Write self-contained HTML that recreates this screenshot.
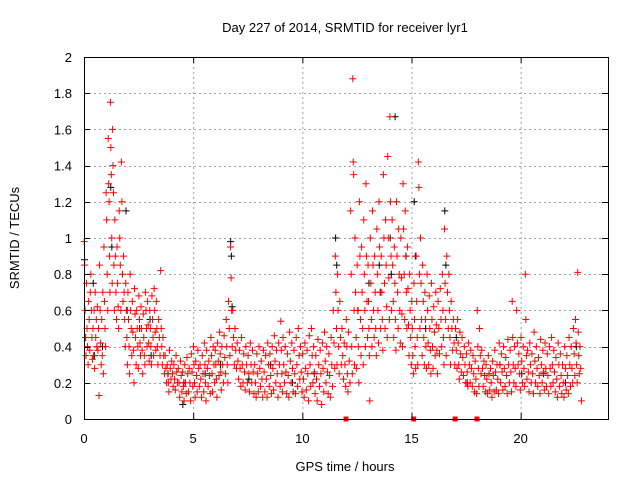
<!DOCTYPE html>
<html><head><meta charset="utf-8"><style>
body{margin:0;background:#fff}
svg{display:block;font-family:"Liberation Sans",sans-serif}
</style></head><body>
<svg id="chart" width="640" height="480"></svg>
<script>
const xTicks=[0,5,10,15,20];
const yTicks=[0,0.2,0.4,0.6,0.8,1,1.2,1.4,1.6,1.8,2];
const yTickLabels=["0","0.2","0.4","0.6","0.8","1","1.2","1.4","1.6","1.8","2"];
// each row: [start hour of 0.1h interval, samples within that interval...]
const redRows=[
[0.0,.98,.85,.6,.45,.35],[0.1,.75,.5,.4,.3],[0.2,.65,.55,.38,.7],[0.3,.8,.6,.45,.33],[0.4,.5,.35,.6,.28],[0.5,.7,.45,.55,.4],[0.6,.62,.38,.5,.13],[0.7,.85,.6,.42,.3],[0.8,.55,.35,.7,.25],[0.9,.95,.65,.5,.4],
[1.0,1.25,1.1,.8,.6],[1.1,1.55,1.3,1.2,.9,.7],[1.2,1.75,1.5,1.35,1.0,.75],[1.3,1.6,1.4,1.25,.85,.6],[1.4,1.1,.9,.7,.55],[1.5,.95,.75,.62,.5],[1.6,1.15,1.0,.85,.6],[1.7,1.42,1.2,.8,.65],[1.8,.9,.7,.55,.4],[1.9,.75,.6,.45,.3],
[2.0,.7,.55,.4,.25],[2.1,.8,.6,.5,.35],[2.2,.65,.48,.38,.2],[2.3,.72,.58,.45,.3],[2.4,.6,.5,.4,.28],[2.5,.68,.55,.42,.35],[2.6,.62,.5,.38,.25],[2.7,.58,.45,.35,.3],[2.8,.7,.6,.5,.4],[2.9,.65,.52,.42,.32],
[3.0,.6,.5,.4,.3],[3.1,.68,.55,.45,.35],[3.2,.72,.6,.48,.38],[3.3,.65,.5,.4,.3],[3.4,.55,.45,.35],[3.5,.82,.5,.4,.3],[3.6,.45,.35,.25],[3.7,.35,.28,.2],[3.8,.3,.25,.2,.15],[3.9,.38,.28,.22],
[4.0,.32,.25,.18],[4.1,.3,.22,.16],[4.2,.35,.26,.2],[4.3,.28,.2,.12],[4.4,.32,.24,.15],[4.5,.26,.18,.1],[4.6,.3,.2,.14],[4.7,.34,.25,.15],[4.8,.28,.2,.1],[4.9,.36,.26,.18],
[5.0,.4,.3,.2,.12],[5.1,.32,.24,.15],[5.2,.38,.28,.18],[5.3,.3,.22,.12],[5.4,.35,.25,.15],[5.5,.42,.3,.2,.1],[5.6,.38,.28,.18],[5.7,.32,.24,.14],[5.8,.45,.35,.25,.15],[5.9,.4,.3,.2],
[6.0,.38,.3,.22,.12],[6.1,.42,.32,.24],[6.2,.48,.36,.26,.16],[6.3,.4,.3,.2],[6.4,.46,.34,.25],[6.5,.55,.4,.3,.2],[6.6,.65,.5,.35],[6.7,.95,.78,.6,.4],[6.8,.6,.45,.3],[6.9,.5,.38,.28],
[7.0,.42,.32,.22],[7.1,.38,.28,.18],[7.2,.45,.3,.2],[7.3,.36,.26,.16],[7.4,.4,.3,.2],[7.5,.35,.25,.15],[7.6,.42,.3,.2],[7.7,.38,.26,.14],[7.8,.3,.2,.12],[7.9,.36,.25,.15],
[8.0,.4,.28,.18],[8.1,.32,.22,.12],[8.2,.38,.26,.15],[8.3,.35,.22,.12],[8.4,.42,.3,.18],[8.5,.36,.24,.14],[8.6,.4,.28,.16],[8.7,.46,.32,.2],[8.8,.38,.25,.12],[8.9,.42,.3,.18],
[9.0,.54,.38,.25,.15],[9.1,.45,.3,.2],[9.2,.4,.26,.14],[9.3,.36,.24,.12],[9.4,.48,.32,.2],[9.5,.42,.28,.15],[9.6,.38,.25,.14],[9.7,.45,.3,.18],[9.8,.5,.35,.22],[9.9,.4,.26,.15],
[10.0,.36,.22,.12],[10.1,.42,.28,.16],[10.2,.38,.25,.1],[10.3,.46,.3,.18],[10.4,.5,.35,.2],[10.5,.4,.26,.14],[10.6,.35,.22,.1],[10.7,.44,.3,.18],[10.8,.38,.25,.08],[10.9,.42,.28,.15],
[11.0,.48,.32,.2],[11.1,.4,.26,.14],[11.2,.36,.24,.12],[11.3,.45,.3,.18],[11.4,.6,.42,.28],[11.5,.9,.7,.5,.3],[11.6,.8,.6,.4,.25],[11.7,.65,.45,.3],[11.8,.5,.35,.22],[11.9,.42,.3,.18],
[12.0,.55,.4,.25,.15],[12.1,.48,.32,.2],[12.2,1.15,.8,.4,.25],[12.3,1.88,1.42,1.35,.6,.3],[12.4,1.0,.7,.45,.28],[12.5,.85,.6,.4,.2],[12.6,1.2,.9,.55,.35],[12.7,.95,.7,.5,.3],[12.8,1.1,.8,.6,.4],[12.9,1.3,.9,.65,.45],
[13.0,.85,.65,.5,.35,.1],[13.1,1.0,.75,.55,.4],[13.2,1.15,.85,.6,.45],[13.3,.9,.7,.5,.35],[13.4,1.05,.8,.6,.42],[13.5,1.2,.95,.7,.5],[13.6,.9,.7,.55,.38],[13.7,1.35,1.0,.75,.5],[13.8,1.1,.85,.62,.45],[13.9,1.45,1.0,.78,.55],
[14.0,1.67,1.2,.9,.6],[14.1,1.1,.85,.65,.45],[14.2,.95,.75,.55,.38],[14.3,1.2,.9,.7,.5],[14.4,1.05,.8,.6,.42],[14.5,1.0,.78,.58,.4],[14.6,1.3,1.05,.8,.55],[14.7,1.15,.9,.7,.5],[14.8,.95,.72,.52,.35],[14.9,.8,.6,.45,.3],
[15.0,.65,.5,.35,.25],[15.1,.75,.55,.4,.28],[15.2,.9,.65,.45,.3],[15.3,1.42,1.28,.8,.5],[15.4,1.0,.75,.55,.35],[15.5,.85,.65,.45,.3],[15.6,.7,.55,.4,.28],[15.7,.8,.6,.42,.3],[15.8,.68,.5,.38,.25],[15.9,.75,.55,.4,.28],
[16.0,.62,.48,.35],[16.1,.7,.52,.38,.25],[16.2,.65,.5,.36],[16.3,.72,.55,.4],[16.4,.8,.6,.45,.3],[16.5,1.05,.75,.55,.35],[16.6,.9,.7,.5],[16.7,.8,.6,.45,.3],[16.8,.65,.5,.38],[16.9,.55,.42,.3],
[17.0,.5,.38,.28],[17.1,.55,.42,.3,.22],[17.2,.48,.36,.26],[17.3,.45,.34,.24],[17.4,.4,.3,.2],[17.5,.36,.26,.18],[17.6,.42,.3,.2],[17.7,.38,.28,.18],[17.8,.35,.25,.15],[17.9,.32,.22,.14],
[18.0,.6,.4,.28,.18],[18.1,.5,.35,.25],[18.2,.38,.28,.18],[18.3,.32,.24,.15],[18.4,.3,.22,.14],[18.5,.35,.25,.16],[18.6,.28,.2,.12],[18.7,.32,.24,.15],[18.8,.38,.26,.16],[18.9,.3,.22,.14],
[19.0,.42,.3,.2],[19.1,.36,.26,.16],[19.2,.4,.28,.18],[19.3,.34,.24,.14],[19.4,.44,.3,.2],[19.5,.38,.26,.15],[19.6,.65,.45,.3,.2],[19.7,.4,.28,.18],[19.8,.6,.42,.3],[19.9,.36,.25,.16],
[20.0,.45,.32,.2],[20.1,.4,.28,.18],[20.2,.8,.55,.35,.22],[20.3,.38,.26,.15],[20.4,.42,.3,.2],[20.5,.36,.25,.14],[20.6,.48,.32,.2],[20.7,.4,.28,.18],[20.8,.34,.24,.14],[20.9,.44,.3,.2],
[21.0,.38,.26,.16],[21.1,.42,.28,.18],[21.2,.36,.24,.14],[21.3,.4,.28,.18],[21.4,.45,.3,.2],[21.5,.38,.26,.15],[21.6,.34,.22,.12],[21.7,.42,.3,.18],[21.8,.36,.24,.14],[21.9,.3,.2,.12],
[22.0,.4,.28,.16],[22.1,.35,.24,.14],[22.2,.45,.3,.18],[22.3,.4,.28,.2],[22.4,.5,.36,.24],[22.5,.55,.42,.3,.2],[22.6,.81,.48,.35,.25],[22.7,.4,.28,.1]
];
const blackRows=[
[0.0,.88,.45],[0.4,.75,.35],[0.8,.4],[1.2,1.28,.95],[1.9,1.15,.6],[2.5,.5],[3.0,.55,.35],[3.8,.25],[4.5,.08,.2],[5.5,.25],[6.2,.3],[6.7,.98,.9,.62],[7.5,.22],[8.5,.3],[9.5,.2],[10.5,.25],
[11.5,1.0,.85],[12.5,.6],[13.0,.75],[13.5,.85,.7],[14.0,1.0,.8],[14.2,1.67],[14.7,.9],[15.1,1.2,.9],[15.6,.5],[16.5,1.15,.85],[17.0,.45],[17.5,.2],[18.5,.25],[19.0,.3],[20.0,.25],[21.0,.25],[22.0,.2],[22.5,.4]
];
const zeroMarks=[12.0,15.1,17.0,18.0];
const binWidth=0.1;

const NS='http://www.w3.org/2000/svg';
const svg=document.getElementById('chart');
const L=84,R=608,T=57,B=419;
const xs=v=>L+(v/24)*(R-L);
const ys=v=>B-(v/2)*(B-T);
function mk(tag,attrs,parent){const e=document.createElementNS(NS,tag);for(const k in attrs)e.setAttribute(k,attrs[k]);(parent||svg).appendChild(e);return e;}

const grid=mk('g',{stroke:'#a0a0a0','stroke-width':1,'stroke-dasharray':'2,3'});


xTicks.forEach(t=>{if(t>0)mk('line',{x1:xs(t)+.5,x2:xs(t)+.5,y1:T,y2:B},grid);});
yTicks.forEach(t=>{if(t>0&&t<2)mk('line',{x1:L,x2:R,y1:Math.round(ys(t))+.5,y2:Math.round(ys(t))+.5},grid);});

function plus(rows,color,name){
  let d='';
  rows.forEach(r=>{const n=r.length-1;for(let i=1;i<r.length;i++){const x=xs(r[0]+binWidth*(i-0.5)/n);const y=ys(r[i]);d+=`M${x-3.5},${y}h7M${x},${y-3.5}v7`;}});
  const p=mk('path',{d:d,stroke:color,'stroke-width':1,fill:'none'});
  
  
}
plus(blackRows,'#000000','black-series');
plus(redRows,'#ff0000','red-series');
zeroMarks.forEach(v=>{
  const s=mk('rect',{x:xs(v)-2.5,y:B-2.5,width:5,height:5,fill:'#ff0000'});
  
  
});

const fr=mk('rect',{x:L+.5,y:T+.5,width:R-L,height:B-T,fill:'none',stroke:'#000','stroke-width':1});



xTicks.forEach(t=>{
  const x=xs(t)+.5;
  mk('line',{x1:x,x2:x,y1:B,y2:B-6,stroke:'#000'});
  mk('line',{x1:x,x2:x,y1:T,y2:T+6,stroke:'#000'});
  const tx=mk('text',{x:xs(t),y:443,'font-size':13,'text-anchor':'middle',fill:'#000'});
  tx.textContent=t;
  
  
});
yTicks.forEach((t,i)=>{
  const y=Math.round(ys(t))+.5;
  mk('line',{x1:L,x2:L+6,y1:y,y2:y,stroke:'#000'});
  mk('line',{x1:R,x2:R-6,y1:y,y2:y,stroke:'#000'});
  const tx=mk('text',{x:72,y:ys(t)+5,'font-size':13,'text-anchor':'end',fill:'#000'});
  tx.textContent=yTickLabels[i];
  
  
});
const title=mk('text',{x:345,y:32,'font-size':13,'text-anchor':'middle'});
title.textContent='Day 227 of 2014, SRMTID for receiver lyr1';


const xl=mk('text',{x:345,y:471,'font-size':13,'text-anchor':'middle'});
xl.textContent='GPS time / hours';


const yl=mk('text',{x:0,y:0,'font-size':13,'text-anchor':'middle',transform:'translate(19,238) rotate(-90)'});
yl.textContent='SRMTID / TECUs';


</script>
</body></html>
